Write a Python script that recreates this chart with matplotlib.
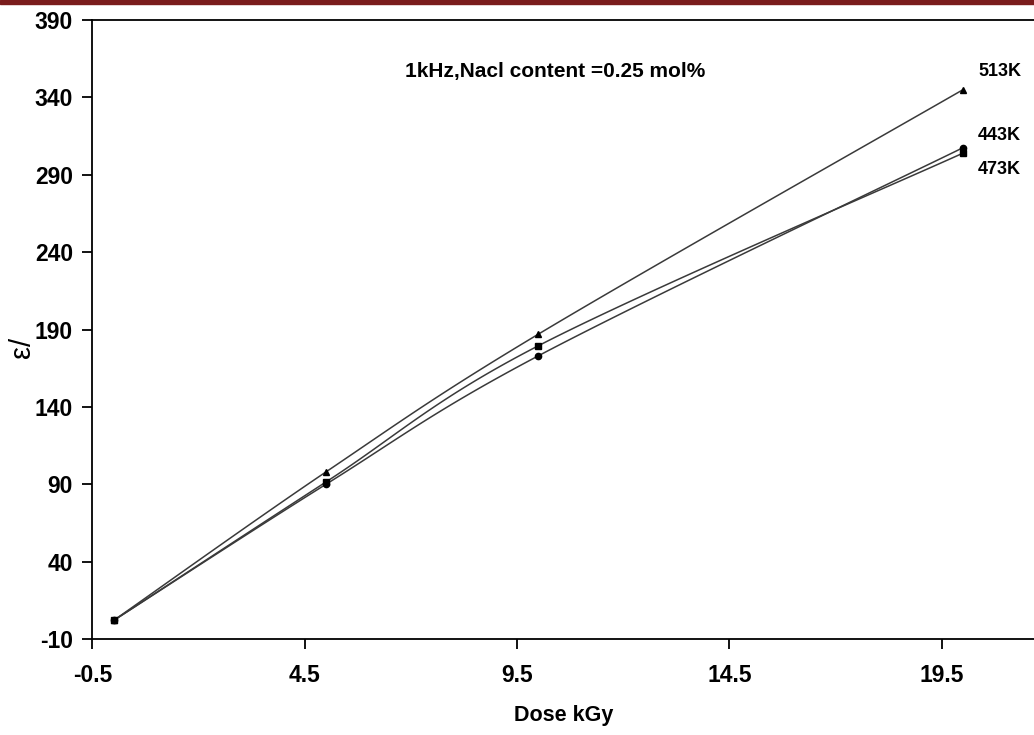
import numpy as np
import matplotlib
matplotlib.use("Agg")
import matplotlib.pyplot as plt
from matplotlib.patches import Rectangle

plt.rcParams['font.family'] = ['Liberation Sans', 'DejaVu Sans']

dose = [0, 5, 10, 20]
eps_513 = [2, 98, 187, 345]
eps_443 = [2, 90, 173, 307.5]
eps_473 = [2, 91.5, 179.5, 304]
series_labels = ['513K', '443K', '473K']
xticks = [-0.5, 4.5, 9.5, 14.5, 19.5]
yticks = [-10, 40, 90, 140, 190, 240, 290, 340, 390]


def smooth(x, y, n=40):
    """Excel-like smoothed line (cubic Bezier through points)."""
    p = np.column_stack([x, y]).astype(float)
    pts = np.vstack([p[0], p, p[-1]])
    out = []
    for i in range(1, len(pts) - 2):
        p0, p1, p2, p3 = pts[i - 1], pts[i], pts[i + 1], pts[i + 2]
        c1 = p1 + (p2 - p0) / 6.0
        c2 = p2 - (p3 - p1) / 6.0
        t = np.linspace(0, 1, n)[:, None]
        seg = ((1 - t) ** 3) * p1 + 3 * ((1 - t) ** 2) * t * c1 + 3 * (1 - t) * t ** 2 * c2 + t ** 3 * p2
        out.append(seg if i == 1 else seg[1:])
    s = np.vstack(out)
    return s[:, 0], s[:, 1]


W, H = 1034, 735
fig = plt.figure(figsize=(W / 100, H / 100), dpi=100)
ax = fig.add_axes([0.0894, 0.1306, 1 - 0.0894, 0.9728 - 0.1306])

# top decorative band
fig.patches.append(Rectangle((0, 1 - 4 / H), 1, 4 / H, transform=fig.transFigure,
                             color='#7a1c1c', zorder=10))

line_color = '#3a3a3a'
for ys, mk, ms in [(eps_513, '^', 5), (eps_473, 's', 4.5), (eps_443, 'o', 4.5)]:
    sx, sy = smooth(dose, ys)
    ax.plot(sx, sy, color=line_color, lw=1.1, zorder=2)
    ax.plot(dose, ys, linestyle='none', marker=mk, ms=ms, color='black', zorder=3)

ax.set_xlim(-0.5, 21.67)
ax.set_ylim(-10, 390)
ax.set_xticks(xticks)
ax.set_xticklabels([f'{v:g}' for v in xticks])
ax.set_yticks(yticks)
ax.set_yticklabels([str(v) for v in yticks])

ax.spines['right'].set_visible(False)
for s in ['left', 'bottom', 'top']:
    ax.spines[s].set_linewidth(1.3)
    ax.spines[s].set_color('black')

ax.tick_params(axis='both', direction='out', length=7, width=1.3, labelsize=16.5, pad=7)
ax.tick_params(axis='x', pad=11)
for lbl in ax.get_xticklabels() + ax.get_yticklabels():
    lbl.set_fontweight('bold')

ax.set_xlabel('Dose kGy', fontsize=15.5, fontweight='bold', labelpad=13)
fig.text(22 / W, 1 - 347 / H, 'ε/', rotation=90, fontsize=21,
         ha='center', va='center')

fig.text(405 / W, 1 - 72 / H, '1kHz,Nacl content =0.25 mol%', fontsize=15,
         fontweight='bold', ha='left', va='center')

for lab, ypix in zip(series_labels, [72, 135, 170]):
    fig.text(978 / W, 1 - ypix / H, lab, fontsize=13, fontweight='bold',
             ha='left', va='center')

fig.savefig('out.png', dpi=100)
